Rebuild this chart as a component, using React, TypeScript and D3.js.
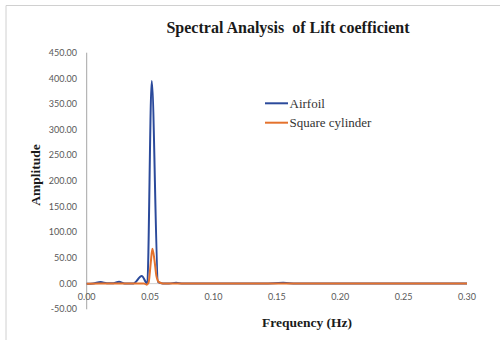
import React from "react";
import * as d3 from "d3";

const W = 500;
const H = 340;

const title = "Spectral Analysis  of Lift coefficient";
const xTitle = "Frequency (Hz)";
const yTitle = "Amplitude";
const seriesNames = ["Airfoil", "Square cylinder"];
const seriesColors = ["#2B4A9B", "#E4722D"];

const xTicks = [0, 0.05, 0.1, 0.15, 0.2, 0.25, 0.3];
const yTicks = [-50, 0, 50, 100, 150, 200, 250, 300, 350, 400, 450];

const airfoilFreq = [0, 0.005, 0.011, 0.016, 0.021, 0.0255, 0.03, 0.037, 0.0434, 0.0478, 0.0513, 0.0563, 0.06, 0.065, 0.0705, 0.076, 0.09, 0.1, 0.12, 0.14, 0.155, 0.165, 0.2, 0.25, 0.3];
const airfoilAmp = [0, 0.5, 3, 1, 1, 3.5, 0.5, 0.5, 15, 0, 395, 3, 0.5, 0.5, 1.5, 0.3, 0.5, 0.3, 0.5, 0.5, 1.5, 0.3, 0.3, 0.3, 0.3];

const cylFreq = [0, 0.01, 0.02, 0.03, 0.04, 0.045, 0.0473, 0.0488, 0.0505, 0.0518, 0.0535, 0.055, 0.057, 0.06, 0.065, 0.08, 0.1, 0.15, 0.2, 0.25, 0.3];
const cylAmp = [0, 0.3, 0.3, 0.3, 0.3, 0.5, -2, 2, 40, 68, 45, 15, 3, 0.5, 0.2, 0.2, 0.2, 0.2, 0.2, 0.2, 0.2];

export default function App() {
  const x = d3.scaleLinear().domain([0, 0.3]).range([86.7, 467]);
  const y = d3.scaleLinear().domain([-50, 450]).range([309.3, 52.7]);

  const line = d3
    .line<[number, number]>()
    .x((d) => x(d[0]))
    .y((d) => y(d[1]))
    .curve(d3.curveMonotoneX);

  const airfoil = airfoilFreq.map((f, i) => [f, airfoilAmp[i]] as [number, number]);
  const cyl = cylFreq.map((f, i) => [f, cylAmp[i]] as [number, number]);

  const tickFont = "Lato, 'Liberation Sans', sans-serif";
  const serif = "'Liberation Serif', 'Times New Roman', serif";

  return (
    <svg
      width={W}
      height={H}
      style={{ position: "absolute", left: 0, top: 0, background: "#fff" }}
    >
      <rect x={0} y={0} width={W} height={H} fill="#fff" />
      {/* chart frame */}
      <line x1={6} y1={5.5} x2={W} y2={5.5} stroke="#D0D0D0" strokeWidth={1} />
      <line x1={6} y1={5.5} x2={6} y2={H} stroke="#D0D0D0" strokeWidth={1} />

      <text
        x={288}
        y={33}
        textAnchor="middle"
        fontFamily={serif}
        fontWeight="bold"
        fontSize={16}
        fill="#1a1a1a"
        style={{ whiteSpace: "pre" }}
      >
        {title}
      </text>

      {/* zero line */}
      <line x1={x(0)} x2={x(0.3)} y1={y(0)} y2={y(0)} stroke="#D0D0D0" strokeWidth={1} />
      {/* y axis */}
      <line x1={x(0)} x2={x(0)} y1={y(450)} y2={y(-50)} stroke="#A6A6A6" strokeWidth={1} />

      {yTicks.map((t) => (
        <text
          key={"y" + t}
          x={77}
          y={y(t)}
          dy="0.35em"
          textAnchor="end"
          fontFamily={tickFont}
          fontSize={9}
          fill="#595959"
        >
          {t.toFixed(2)}
        </text>
      ))}
      {xTicks.map((t) => (
        <text
          key={"x" + t}
          x={x(t)}
          y={297}
          dy="0.35em"
          textAnchor="middle"
          fontFamily={tickFont}
          fontSize={9}
          fill="#595959"
        >
          {t.toFixed(2)}
        </text>
      ))}

      <path d={line(airfoil) || ""} fill="none" stroke={seriesColors[0]} strokeWidth={2} strokeLinejoin="round" />
      <path d={line(cyl) || ""} fill="none" stroke={seriesColors[1]} strokeWidth={2} strokeLinejoin="round" />

      <text
        x={307}
        y={327}
        textAnchor="middle"
        fontFamily={serif}
        fontWeight="bold"
        fontSize={13.5}
        fill="#1a1a1a"
      >
        {xTitle}
      </text>
      <text
        transform="translate(40,175) rotate(-90)"
        textAnchor="middle"
        fontFamily={serif}
        fontWeight="bold"
        fontSize={13.5}
        fill="#1a1a1a"
      >
        {yTitle}
      </text>

      {seriesNames.map((n, i) => {
        const ly = 103.3 + i * 19.4;
        return (
          <g key={n}>
            <line x1={265} x2={288} y1={ly} y2={ly} stroke={seriesColors[i]} strokeWidth={2} />
            <text x={289.5} y={ly + 4.3} fontFamily={serif} fontSize={13} fill="#333">
              {n}
            </text>
          </g>
        );
      })}
    </svg>
  );
}
